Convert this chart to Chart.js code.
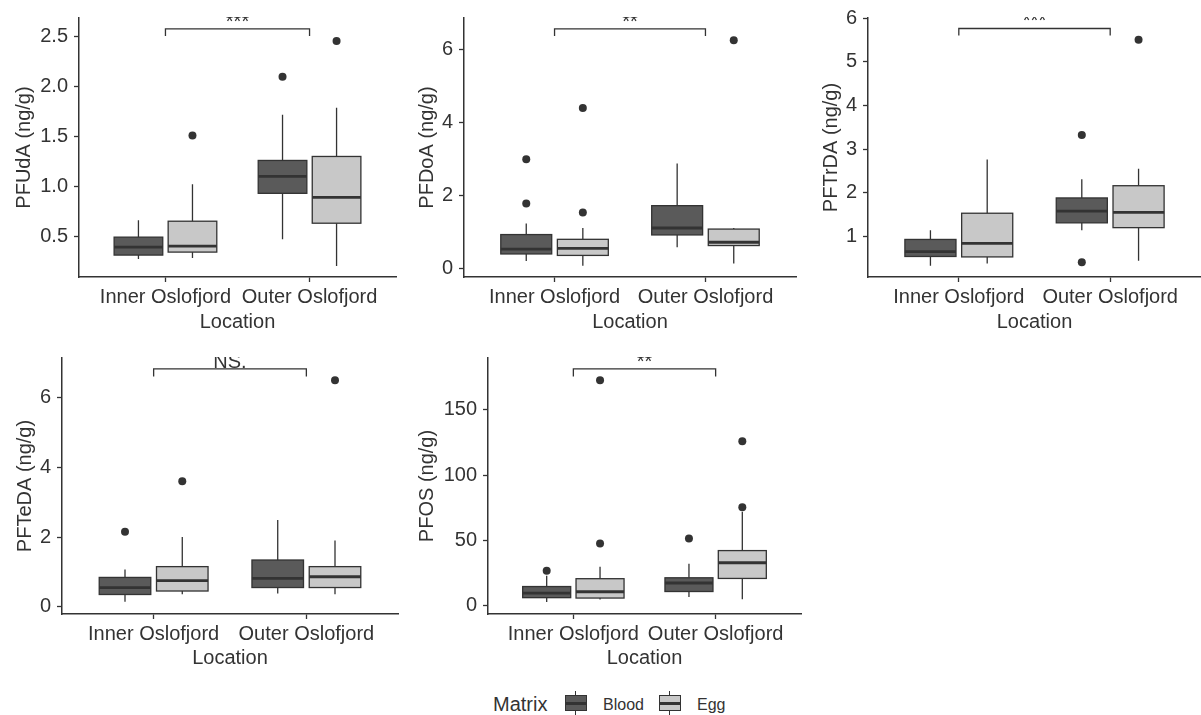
<!DOCTYPE html>
<html>
<head>
<meta charset="utf-8">
<script src="https://cdn.jsdelivr.net/npm/chart.js@4.4.1/dist/chart.umd.min.js"></script>
<style>
  body { margin: 0; background: #fff; width: 1201px; height: 715px; position: relative; overflow: hidden;
         font-family: 'Liberation Sans', Arial, sans-serif; color: #333; }
  canvas { position: absolute; }
  .lg { position: absolute; }
  .key { position: absolute; width: 22px; height: 24px; }
  .key .wh { position: absolute; left: 10px; width: 1.3px; background: #333; }
  .key .bx { position: absolute; left: 0; top: 4px; width: 20px; height: 14px; border: 1.3px solid #333; }
  .key .md { position: absolute; left: 0; top: 11px; width: 22px; height: 2.6px; background: #333; }
</style>
</head>
<body>
<canvas id="c0" width="400" height="335" style="left:0;top:0"></canvas>
<canvas id="c1" width="400" height="335" style="left:400px;top:0"></canvas>
<canvas id="c2" width="405" height="335" style="left:800px;top:0"></canvas>
<canvas id="c3" width="402" height="335" style="left:0;top:340px"></canvas>
<canvas id="c4" width="405" height="335" style="left:400px;top:340px"></canvas>

<div class="lg" style="left:493px;top:692px;font-size:20px;line-height:24px;">Matrix</div>
<div class="key" style="left:565px;top:691px;">
  <div class="wh" style="top:0;height:5px"></div>
  <div class="bx" style="background:#5a5a5a"></div>
  <div class="md"></div>
  <div class="wh" style="top:20px;height:4px"></div>
</div>
<div class="lg" style="left:603px;top:695px;font-size:16px;line-height:20px;">Blood</div>
<div class="key" style="left:659px;top:691px;">
  <div class="wh" style="top:0;height:5px"></div>
  <div class="bx" style="background:#c8c8c8"></div>
  <div class="md"></div>
  <div class="wh" style="top:20px;height:4px"></div>
</div>
<div class="lg" style="left:697px;top:695px;font-size:16px;line-height:20px;">Egg</div>

<script>
// Categories
const locations = ['Inner Oslofjord', 'Outer Oslofjord'];
const matrices = ['Blood', 'Egg'];
const matrixColors = ['#5a5a5a', '#c8c8c8'];

// Box stats, groups ordered Inner Blood, Inner Egg, Outer Blood, Outer Egg
// each: [lower whisker, Q1, median, Q3, upper whisker]
const pfudaStats = [[0.27, 0.31, 0.39, 0.49, 0.66], [0.28, 0.34, 0.40, 0.65, 1.02], [0.47, 0.93, 1.10, 1.26, 1.72], [0.20, 0.63, 0.89, 1.30, 1.79]];
const pfudaOutliers = [[], [1.51], [2.10], [2.46]];

const pfdoaStats = [[0.22, 0.41, 0.54, 0.94, 1.24], [0.09, 0.37, 0.56, 0.81, 1.12], [0.59, 0.93, 1.12, 1.73, 2.88], [0.15, 0.64, 0.73, 1.09, 1.12]];
const pfdoaOutliers = [[3.00, 1.79], [4.40, 1.54], [], [6.25]];

const pftrdaStats = [[0.33, 0.54, 0.65, 0.93, 1.14], [0.38, 0.53, 0.84, 1.53, 2.76], [1.14, 1.31, 1.58, 1.88, 2.31], [0.44, 1.20, 1.55, 2.16, 2.55]];
const pftrdaOutliers = [[], [], [3.32, 0.41], [5.50]];

const pftedaStats = [[0.14, 0.35, 0.55, 0.84, 1.07], [0.36, 0.45, 0.75, 1.15, 2.00], [0.38, 0.55, 0.81, 1.34, 2.49], [0.36, 0.55, 0.86, 1.15, 1.90]];
const pftedaOutliers = [[2.15], [3.60], [], [6.50]];

const pfosStats = [[3.0, 6.3, 9.8, 14.8, 23.0], [4.8, 6.0, 10.8, 20.8, 30.0], [6.8, 11.0, 17.5, 21.5, 32.3], [5.0, 21.0, 33.0, 42.3, 72.0]];
const pfosOutliers = [[26.8], [172.5, 47.8], [51.5], [126.0, 75.5]];

// Panels
const compounds = ['PFUdA', 'PFDoA', 'PFTrDA', 'PFTeDA', 'PFOS'];
const allStats = [pfudaStats, pfdoaStats, pftrdaStats, pftedaStats, pfosStats];
const allOutliers = [pfudaOutliers, pfdoaOutliers, pftrdaOutliers, pftedaOutliers, pfosOutliers];
const yMins = [0.09, -0.22, 0.07, -0.21, -6.2];
const yMaxs = [2.69, 6.86, 6.0, 7.14, 189.6];
const yTicks = [[0.5, 1.0, 1.5, 2.0, 2.5], [0, 2, 4, 6], [1, 2, 3, 4, 5, 6], [0, 2, 4, 6], [0, 50, 100, 150]];
const yDecimals = [1, 0, 0, 0, 0];

// significance brackets
const sigLabels = ['***', '**', '***', 'NS.', '**'];
const sigTop = [2.58, 6.56, 5.76, 6.83, 181.3];
const sigTip = [2.51, 6.37, 5.60, 6.61, 175.5];

// layout per panel (pixels)
const axisLeft = [79, 64, 68, 62, 88];
const titlePad = [12, 15, 19, 13, 15];
const padTop = [17, 17, 17, 13, 13];
const padRight = [2, 2, 1, 1, 2];
const xAxisH = [58, 58, 58, 61, 61];
const xTitlePad = [1, 1, 1, 5, 5];

const dodge = 0.1875, boxHalf = 0.16875;
const ink = '#333333';
const groupX = g => Math.floor(g / 2) + 1 + (g % 2 === 0 ? -dodge : dodge);

function makeBoxPlugin(p) {
  return {
    id: 'boxes' + p,
    beforeDatasetsDraw(chart) {
      const xs = chart.scales.x, ys = chart.scales.y, ctx = chart.ctx;
      allStats[p].forEach((s, g) => {
        const c = groupX(g);
        const xl = xs.getPixelForValue(c - boxHalf), xr = xs.getPixelForValue(c + boxHalf), xc = xs.getPixelForValue(c);
        const [lo, q1, med, q3, hi] = s.map(v => ys.getPixelForValue(v));
        ctx.save();
        ctx.strokeStyle = ink;
        ctx.lineWidth = 1.3;
        ctx.beginPath();
        ctx.moveTo(xc, hi); ctx.lineTo(xc, q3);
        ctx.moveTo(xc, q1); ctx.lineTo(xc, lo);
        ctx.stroke();
        ctx.fillStyle = matrixColors[g % 2];
        ctx.fillRect(xl, q3, xr - xl, q1 - q3);
        ctx.strokeRect(xl, q3, xr - xl, q1 - q3);
        ctx.lineWidth = 2.8;
        ctx.beginPath();
        ctx.moveTo(xl, med); ctx.lineTo(xr, med);
        ctx.stroke();
        ctx.restore();
      });
    },
    afterDatasetsDraw(chart) {
      const xs = chart.scales.x, ys = chart.scales.y, ctx = chart.ctx, area = chart.chartArea;
      const x1 = xs.getPixelForValue(1), x2 = xs.getPixelForValue(2);
      const yt = ys.getPixelForValue(sigTop[p]), yb = ys.getPixelForValue(sigTip[p]);
      ctx.save();
      ctx.strokeStyle = ink;
      ctx.lineWidth = 1.3;
      ctx.beginPath();
      ctx.moveTo(x1, yb); ctx.lineTo(x1, yt); ctx.lineTo(x2, yt); ctx.lineTo(x2, yb);
      ctx.stroke();
      // label sits above the panel edge and gets cut, as in the source figure
      ctx.beginPath();
      ctx.rect(0, area.top - 1, chart.width, chart.height);
      ctx.clip();
      ctx.fillStyle = ink;
      ctx.font = '20px "Liberation Sans", Arial, sans-serif';
      ctx.textAlign = 'center';
      ctx.textBaseline = 'alphabetic';
      ctx.fillText(sigLabels[p], (x1 + x2) / 2, yt - 1);
      ctx.restore();
    }
  };
}

const font20 = { family: "'Liberation Sans', Arial, sans-serif", size: 20, lineHeight: 1.2 };

compounds.forEach((name, p) => {
  const points = [];
  allOutliers[p].forEach((vals, g) => vals.forEach(v => points.push({ x: groupX(g), y: v })));

  new Chart(document.getElementById('c' + p), {
    type: 'scatter',
    data: {
      datasets: [{
        data: points,
        pointRadius: 4,
        pointBackgroundColor: ink,
        pointBorderWidth: 0
      }]
    },
    options: {
      responsive: false,
      animation: false,
      events: [],
      layout: { padding: { top: padTop[p], right: padRight[p], left: 0, bottom: 0 } },
      plugins: { legend: { display: false }, tooltip: { enabled: false } },
      scales: {
        x: {
          type: 'linear',
          min: 0.4,
          max: 2.6,
          afterBuildTicks: s => { s.ticks = [{ value: 1 }, { value: 2 }]; },
          afterFit: s => { s.height = xAxisH[p]; },
          grid: { drawOnChartArea: false, drawTicks: true, tickLength: 5, tickColor: ink, tickWidth: 1.3 },
          border: { display: true, color: ink, width: 1.5 },
          ticks: { autoSkip: false, maxRotation: 0, padding: 3, color: ink, font: font20,
                   callback: v => locations[v - 1] },
          title: { display: true, text: 'Location', color: ink, font: font20, padding: { top: 0, bottom: xTitlePad[p] } }
        },
        y: {
          min: yMins[p],
          max: yMaxs[p],
          afterBuildTicks: s => { s.ticks = yTicks[p].map(v => ({ value: v })); },
          afterFit: s => { s.width = axisLeft[p]; },
          grid: { drawOnChartArea: false, drawTicks: true, tickLength: 5, tickColor: ink, tickWidth: 1.3 },
          border: { display: true, color: ink, width: 1.5 },
          ticks: { padding: 6, color: ink, font: font20, callback: v => v.toFixed(yDecimals[p]) },
          title: { display: true, text: name + ' (ng/g)', color: ink, font: font20, padding: { top: titlePad[p], bottom: 0 } }
        }
      }
    },
    plugins: [makeBoxPlugin(p)]
  });
});
</script>
</body>
</html>
